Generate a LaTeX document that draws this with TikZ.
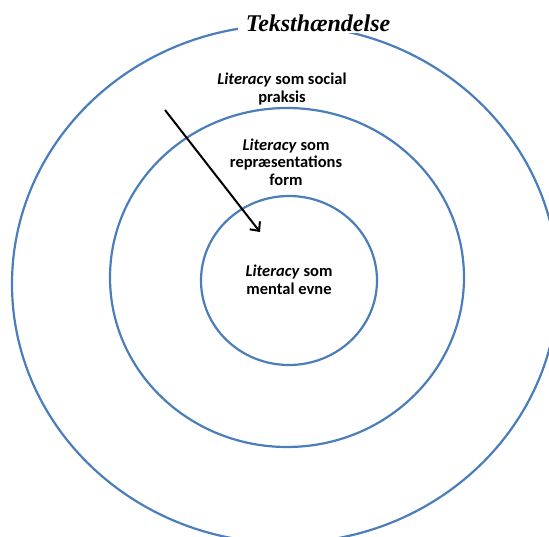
\documentclass[tikz,border=0pt]{standalone}
\usepackage{fontspec}
\setmainfont{Carlito}
\newfontfamily\titlefont{Liberation Serif}
\usetikzlibrary{arrows.meta}
\definecolor{ringblue}{RGB}{74,126,187}
\begin{document}
\begin{tikzpicture}[x=1pt,y=-1pt,
  ring/.style={draw=ringblue, line width=2.2pt},
  ringlabel/.style={font=\fontsize{16.5}{17.5}\selectfont\bfseries, align=center, inner sep=0pt},
  pointer/.style={draw=black, line width=2pt, -{Straight Barb[length=7pt,width=13pt,line width=2pt]}}]
  \useasboundingbox (0,0) rectangle (549,537);
  % three nested rings
  \draw[ring] (285,284) ellipse [x radius=273pt, y radius=259pt];
  \draw[ring] (287,277.5) ellipse [x radius=177pt, y radius=169.5pt];
  \draw[ring] (289,280.5) ellipse [x radius=88pt, y radius=84.5pt];
  % heading, breaking the outer ring
  \node[fill=white, inner xsep=8pt, inner ysep=2pt] (title) at (318,23)
    {\titlefont\bfseries\itshape\fontsize{24}{28}\selectfont Teksthændelse};
  % ring labels
  \node[ringlabel] (social) at (282,89) {\textit{Literacy} som social\\praksis};
  \node[ringlabel] (repr) at (286,162) {\textit{Literacy} som\\repræsentations\\form};
  \node[ringlabel] (mental) at (289,280) {\textit{Literacy} som\\mental evne};
  % pointer from the outer ring towards the centre
  \coordinate (arrowstart) at (165,110);
  \coordinate (arrowend) at (260,232);
  \draw[pointer] (arrowstart) -- (arrowend);
\end{tikzpicture}
\end{document}
